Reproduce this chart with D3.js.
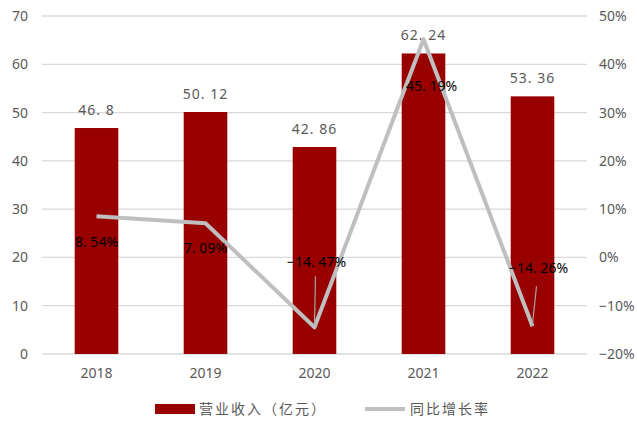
<!DOCTYPE html>
<html>
<head>
<meta charset="utf-8">
<script src="https://cdn.jsdelivr.net/npm/d3@7"></script>
<style>
body { margin: 0; background: #fff; }
text { font-family: "Noto Sans", "Noto Sans CJK SC", sans-serif; }
.cjk { font-family: "Noto Sans CJK SC", sans-serif; }
</style>
</head>
<body>
<div id="chart"></div>
<script>
// data
var years = ["2018", "2019", "2020", "2021", "2022"];
var revenue = [46.8, 50.12, 42.86, 62.24, 53.36];
var growth = [8.54, 7.09, -14.47, 45.19, -14.26];
var leftTicks = [0, 10, 20, 30, 40, 50, 60, 70];
var rightTicks = [-20, -10, 0, 10, 20, 30, 40, 50];

var width = 637, height = 421;
var margin = {top: 16, right: 50, bottom: 67, left: 42};
var w = width - margin.left - margin.right,
    h = height - margin.top - margin.bottom;

var svg = d3.select("#chart").append("svg")
    .attr("width", width)
    .attr("height", height);
var g = svg.append("g")
    .attr("transform", "translate(" + margin.left + "," + margin.top + ")");

var x = d3.scaleBand().domain(years).range([0, w]).paddingInner(0.6).paddingOuter(0.3);
var y = d3.scaleLinear().domain([0, 70]).range([h, 0]);
var y2 = d3.scaleLinear().domain([-20, 50]).range([h, 0]);

function fmt(d) { return (d < 0 ? "\u2212" + (-d) : String(d)).replace(".", ". "); }

// gridlines
g.selectAll(".grid").data(leftTicks).enter().append("line")
    .attr("x1", 0).attr("x2", w)
    .attr("y1", function(d) { return y(d); })
    .attr("y2", function(d) { return y(d); })
    .attr("stroke", "#d9d9d9").attr("stroke-width", 1.3);

// left axis
var ya = g.append("g").call(d3.axisLeft(y).tickValues(leftTicks).tickSize(0).tickPadding(14));
ya.select(".domain").remove();
ya.selectAll("text").attr("fill", "#595959").style("font-size", "14px");

// right axis
var yb = g.append("g").attr("transform", "translate(" + w + ",0)")
    .call(d3.axisRight(y2).tickValues(rightTicks).tickSize(0).tickPadding(12));
yb.select(".domain").remove();
yb.selectAll("text").attr("fill", "#595959").style("font-size", "14px")
    .text(function(d) { return fmt(d) + "%"; });

// x axis
var xa = g.append("g").attr("transform", "translate(0," + h + ")")
    .call(d3.axisBottom(x).tickSize(0).tickPadding(14));
xa.select(".domain").remove();
xa.selectAll("text").attr("fill", "#595959").style("font-size", "14px");

// bars
g.selectAll(".bar").data(revenue).enter().append("rect")
    .attr("x", function(d, i) { return x(years[i]); })
    .attr("width", x.bandwidth())
    .attr("y", function(d) { return y(d); })
    .attr("height", function(d) { return h - y(d); })
    .attr("fill", "#990000");

// bar labels
g.selectAll(".blab").data(revenue).enter().append("text")
    .attr("x", function(d, i) { return x(years[i]) + x.bandwidth() / 2; })
    .attr("y", function(d) { return y(d) - 13; })
    .attr("text-anchor", "middle")
    .attr("fill", "#595959").style("font-size", "14px").style("letter-spacing", "1px")
    .text(fmt);

// line
var line = d3.line()
    .x(function(d, i) { return x(years[i]) + x.bandwidth() / 2; })
    .y(function(d) { return y2(d); });
g.append("path").datum(growth)
    .attr("d", line)
    .attr("fill", "none")
    .attr("stroke", "#bfbfbf")
    .attr("stroke-width", 4)
    .attr("stroke-linejoin", "round");

// line labels (offsets of the dragged labels)
var labOff = [[0, 31], [0, 30], [2, -60], [8, 52], [6, -53]];
g.selectAll(".llab").data(growth).enter().append("text")
    .attr("x", function(d, i) { return x(years[i]) + x.bandwidth() / 2 + labOff[i][0]; })
    .attr("y", function(d, i) { return y2(d) + labOff[i][1]; })
    .attr("text-anchor", "middle")
    .attr("fill", "#000").style("font-size", "14px")
    .text(function(d) { return fmt(d) + "%"; });

// leader lines for the two low points
[[2, 1, 51], [4, 4, 40]].forEach(function(p) {
    var cx = x(years[p[0]]) + x.bandwidth() / 2;
    var cy = y2(growth[p[0]]);
    g.append("line")
        .attr("x1", cx).attr("y1", cy - 2)
        .attr("x2", cx + p[1]).attr("y2", cy - p[2])
        .attr("stroke", "#a6a6a6").attr("stroke-width", 1.2);
});

// legend
var lg = svg.append("g").attr("transform", "translate(0,409)");
lg.append("rect").attr("x", 155).attr("y", -5).attr("width", 40).attr("height", 10).attr("fill", "#990000");
lg.append("text").attr("class", "cjk").attr("x", 199).attr("y", 5).attr("fill", "#595959")
    .style("font-size", "14px").style("letter-spacing", "2px").text("营业收入（亿元）");
lg.append("line").attr("x1", 365).attr("x2", 405).attr("y1", 0).attr("y2", 0)
    .attr("stroke", "#bfbfbf").attr("stroke-width", 4);
lg.append("text").attr("class", "cjk").attr("x", 410).attr("y", 5).attr("fill", "#595959")
    .style("font-size", "14px").style("letter-spacing", "2px").text("同比增长率");
</script>
</body>
</html>
